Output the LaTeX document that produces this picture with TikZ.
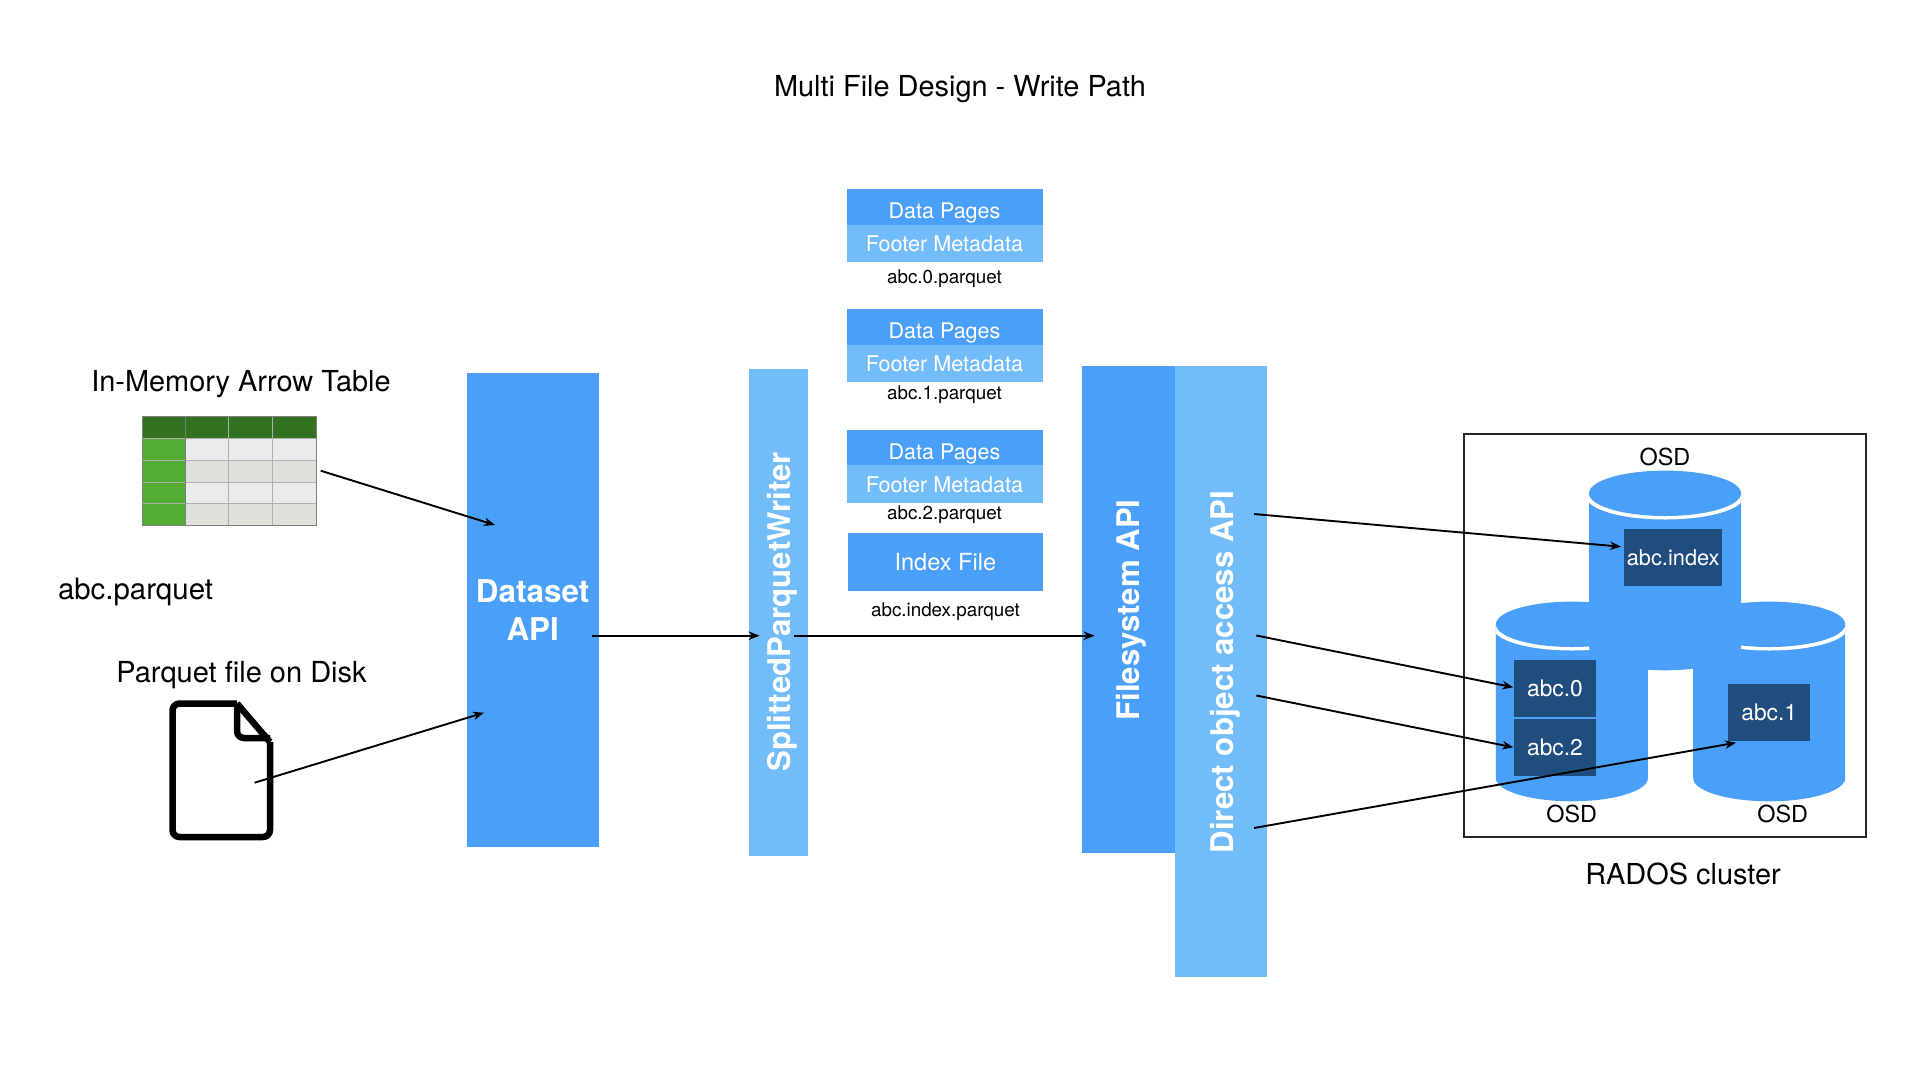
\documentclass[tikz,border=0pt]{standalone}
\usepackage{fontspec}
\setmainfont{TeX Gyre Heros}
\usetikzlibrary{arrows.meta}
\definecolor{bluemain}{HTML}{4A9FF8}
\definecolor{bluelight}{HTML}{72BCF9}
\definecolor{bluedark}{HTML}{1F4E7E}
\definecolor{greendark}{HTML}{33701F}
\definecolor{greenmain}{HTML}{53AC33}
\definecolor{cellone}{HTML}{EBEBEB}
\definecolor{celltwo}{HTML}{E0DFDA}
\definecolor{gridgrey}{HTML}{B0B0B0}
\newcommand{\fsz}[1]{\fontsize{#1}{#1}\selectfont}
\tikzset{
  x=1pt,y=-1pt,
  block/.style={rectangle,inner sep=0pt,outer sep=0pt,text=white,align=center},
  mainblock/.style={block,fill=bluemain},
  lightblock/.style={block,fill=bluelight},
  darkblock/.style={block,fill=bluedark,minimum width=82pt,minimum height=57pt,font=\fsz{22.8}},
  plain/.style={inner sep=0pt,outer sep=0pt,text=black,font=\fsz{28.9}},
  small/.style={inner sep=0pt,outer sep=0pt,text=black,font=\fsz{18.8}},
  osd/.style={inner sep=0pt,outer sep=0pt,text=black,font=\fsz{23.4}},
  big/.style={font=\fsz{31.2}\bfseries},
  flow/.style={-{Stealth[length=11pt,width=8.5pt]},line width=1.9pt,black},
}
\begin{document}
\begin{tikzpicture}
\useasboundingbox (0,0) rectangle (1920,1080);
\fill[white] (0,0) rectangle (1920,1080);
% title
\node[plain] (title) at (960,89.5) {Multi File Design - Write Path};
% table
\node[plain] (tabletitle) at (241,384.5) {In-Memory Arrow Table};
\foreach \r/\yy/\c in {1/438.5/cellone,2/460.3/celltwo,3/482/cellone,4/503.8/celltwo}{
  \fill[\c] (185.7,\yy) rectangle (316,\yy+21.8);
  \fill[greenmain] (142,\yy) rectangle (185.7,\yy+21.8);
}
\fill[greendark] (142,416.7) rectangle (316,438.5);
\foreach \xx in {228.6,272.5}{\draw[gridgrey,line width=.8pt] (\xx,416.7) -- (\xx,525.6);}
\foreach \yy in {438.5,460.3,482,503.8}{\draw[gridgrey,line width=1pt] (142,\yy) -- (316,\yy);}
\draw[gridgrey!70!black,line width=.9pt] (185.7,416.7) -- (185.7,525.6);
\draw[gray,line width=.8pt] (142,416.7) rectangle (316,525.6);
% texts left
\node[plain,font=\fsz{29.4}] (abcparquet) at (135.5,591.5) {abc.parquet};
\node[plain,font=\fsz{29}] (disktitle) at (241.5,675.5) {Parquet file on Disk};
% document icon
\draw[line width=6.5pt,line join=round,rounded corners=7pt,black]
  (237,703.5) -- (172.5,703.5) -- (172.5,837) -- (270,837) -- (270,742);
\draw[line width=6.5pt,line join=round,black] (270,742) -- (237,703.5);
\draw[line width=6.5pt,line join=round,rounded corners=7pt,black] (237,703.5) -- (237,738) -- (270,738);
% main blocks
\node[mainblock,minimum width=132pt,minimum height=474.5pt,font=\fsz{31.4}\bfseries] (dataset) at (532.7,610)
  {Dataset\\[7.5pt]API};
\node[lightblock,minimum width=58.5pt,minimum height=486.5pt] (splitted) at (778.7,612.5) {};
\node[big,text=white,rotate=90,inner sep=0pt] (splittedlabel) at (782.5,612) {SplittedParquetWriter};
\node[mainblock,minimum width=93pt,minimum height=487pt] (filesystem) at (1128,609.5) {};
\node[big,text=white,rotate=90,inner sep=0pt] (fslabel) at (1131.5,610) {Filesystem API};
\node[lightblock,minimum width=92pt,minimum height=611pt] (direct) at (1220.8,671.2) {};
\node[big,text=white,rotate=90,inner sep=0pt] (directlabel) at (1225.5,672) {Direct object access API};
% file stacks
\foreach \n/\ya/\yb/\yc/\yl/\lab in {a/189.3/225/262.3/279/abc.0.parquet,b/309/345/382/394.5/abc.1.parquet,c/429.7/465.3/502.7/514.5/abc.2.parquet}{
  \fill[bluemain] (847,\ya) rectangle (1042.5,\yb);
  \fill[bluelight] (847,\yb) rectangle (1042.5,\yc);
  \node[small] (lab\n) at (944.5,\yl) {\lab};
  \node[text=white,inner sep=0pt,font=\fsz{21.5}] (dp\n) at (944.5,\ya+24) {Data Pages};
  \node[text=white,inner sep=0pt,font=\fsz{21.6}] (fm\n) at (944.5,\yb+19) {Footer Metadata};
}
\node[mainblock,minimum width=195pt,minimum height=57.4pt,font=\fsz{23.6}] (index) at (945.4,562) {Index File};
\node[small] (indexlabel) at (945.5,612) {abc.index.parquet};
% cluster
\draw[line width=1.8pt,black!85] (1464.3,434) rectangle (1866,836.7);
\foreach \cx/\cy in {1571.9/624.3,1769.2/624.3,1665/493.3}{
  \begin{scope}[shift={(\cx,\cy)}]
    \fill[bluemain] (-76,0) -- (-76,154) .. controls (-76,166.5) and (-42,177) .. (0,177)
      .. controls (42,177) and (76,166.5) .. (76,154) -- (76,0) -- cycle;
    \begin{scope}
      \clip (-76,0) rectangle (76,40);
      \fill[white] (0,3.5) ellipse [x radius=78.5pt,y radius=22.7pt];
    \end{scope}
    \fill[bluemain] (0,0) ellipse [x radius=76pt,y radius=22.7pt];
  \end{scope}
}
\node[darkblock,minimum width=98.3pt,minimum height=56.7pt,font=\fsz{21.8}] (bindex) at (1673.2,557.4) {abc.index};
\node[darkblock] (b0) at (1555,688.7) {abc.0};
\node[darkblock] (b2) at (1555,747.2) {abc.2};
\node[darkblock] (b1) at (1769.2,712.4) {abc.1};
\node[osd] (osdtop) at (1665,456.7) {OSD};
\node[osd] (osdleft) at (1571.7,814) {OSD};
\node[osd] (osdright) at (1782.7,814) {OSD};
\node[plain] (rados) at (1683,874) {RADOS cluster};
% connector ends
\coordinate (t1) at (320.7,470.7);
\coordinate (d1) at (495,525);
\coordinate (t2) at (254.6,782.7);
\coordinate (d2) at (484,712.7);
\coordinate (d3) at (591.5,635.7);
\coordinate (s3) at (759.6,635.7);
\coordinate (s4) at (793.6,635.7);
\coordinate (f4) at (1094.6,635.7);
\coordinate (a1) at (1254,514);
\coordinate (e1) at (1621,546.7);
\coordinate (a2) at (1256.3,635.5);
\coordinate (e2) at (1513.3,687.3);
\coordinate (a3) at (1256.3,695.5);
\coordinate (e3) at (1513.3,747.3);
\coordinate (a4) at (1254,828);
\coordinate (e4) at (1736,742.7);
\draw[flow] (t1) -- (d1);
\draw[flow] (t2) -- (d2);
\draw[flow] (d3) -- (s3);
\draw[flow] (s4) -- (f4);
\draw[flow] (a1) -- (e1);
\draw[flow] (a2) -- (e2);
\draw[flow] (a3) -- (e3);
\draw[flow] (a4) -- (e4);
\end{tikzpicture}
\end{document}
